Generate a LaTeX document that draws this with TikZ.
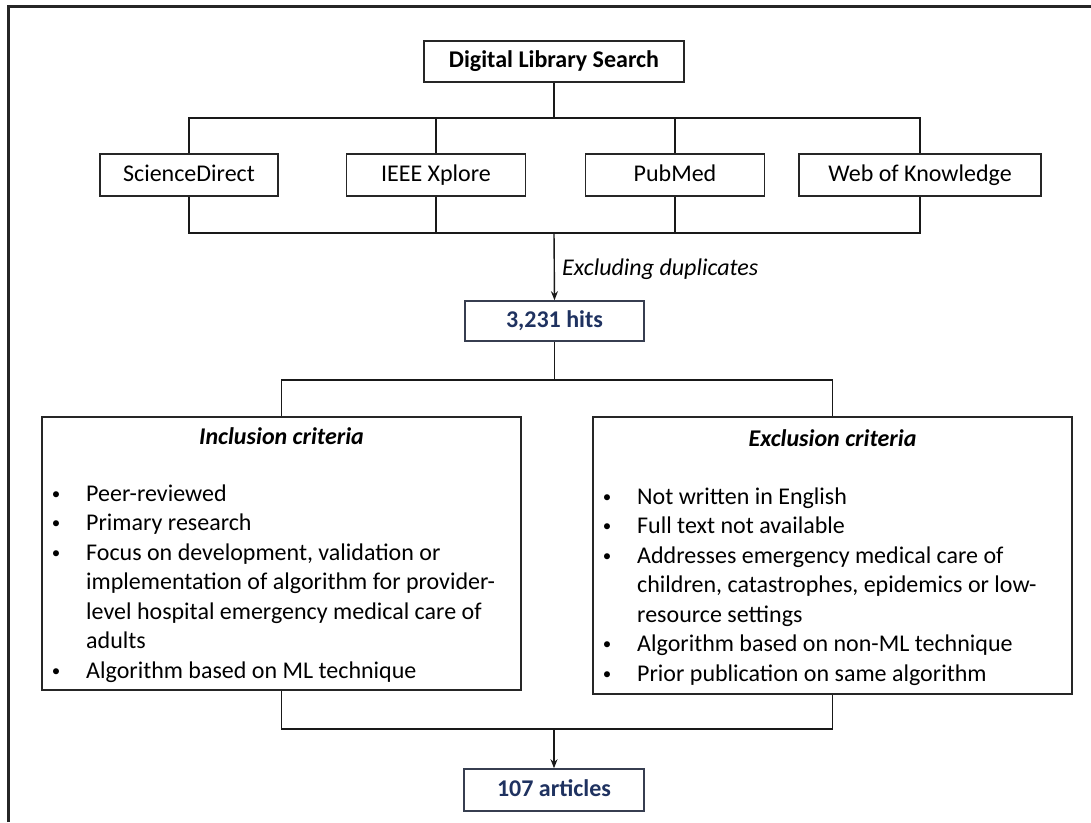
\documentclass[tikz,border=0pt]{standalone}
\usepackage{fontspec}
\setmainfont{Carlito}
\usetikzlibrary{arrows.meta}
\definecolor{navytext}{RGB}{31,50,96}
\definecolor{hitsborder}{RGB}{55,62,80}
\newcommand{\mysize}{\fontsize{24}{29.5}\selectfont}
\tikzset{
  box/.style={draw=black!85, line width=1.6pt, inner sep=0pt, fill=white, text height=17pt, text depth=5pt},
  bigbox/.style={draw=black!85, line width=1.6pt, inner sep=0pt, fill=white},
  hitbox/.style={draw=hitsborder, line width=1.6pt, inner sep=0pt, fill=white, text=navytext, text height=17pt, text depth=5pt},
  conn/.style={draw=black!90, line width=1.4pt},
  arr/.style={conn, -{Stealth[length=9pt,width=7pt]}},
  item/.style={anchor=base west, inner sep=0pt},
  bul/.style={anchor=base, inner sep=0pt, font=\fontsize{17}{17}\selectfont, yshift=2pt},
  ttl/.style={anchor=base, inner sep=0pt, font=\mysize\bfseries\itshape},
}
\begin{document}
\begin{tikzpicture}[x=1pt,y=-1pt,font=\mysize]
\useasboundingbox (0,0) rectangle (1091,822);
% outer frame (only top and left visible)
\draw[line width=3pt, black!85] (8,822) -- (8,6) -- (1091,6);

% top level
\node[box, minimum width=260pt, minimum height=41pt] (dls) at (554,61.5) {\bfseries Digital Library Search};
\node[box, minimum width=178pt, minimum height=42pt] (sd) at (189,175) {ScienceDirect};
\node[box, minimum width=179pt, minimum height=42pt] (ieee) at (436,175) {IEEE Xplore};
\node[box, minimum width=179pt, minimum height=42pt] (pub) at (675,175) {PubMed};
\node[box, minimum width=242pt, minimum height=42pt] (wok) at (920,175) {Web of Knowledge};

\coordinate (tb) at (554,118);
\coordinate (bb) at (554,233);
\draw[conn] (dls.south) -- (tb);
\draw[conn] (sd.north) |- (tb) -| (wok.north);
\draw[conn] (ieee.north) -- (ieee.north |- tb);
\draw[conn] (pub.north) -- (pub.north |- tb);
\draw[conn] (sd.south) |- (bb) -| (wok.south);
\draw[conn] (ieee.south) -- (ieee.south |- bb);
\draw[conn] (pub.south) -- (pub.south |- bb);

% hits
\node[hitbox, minimum width=179pt, minimum height=40pt] (hits) at (554.5,321) {\bfseries 3,231 hits};
\draw[arr] (bb) -- (hits.north);
\node[anchor=west, inner sep=0pt, font=\mysize\itshape] (excl) at (562,269) {Excluding duplicates};

% criteria boxes
\node[bigbox, minimum width=479pt, minimum height=273pt] (inc) at (281.5,553.5) {};
\node[bigbox, minimum width=479pt, minimum height=277pt] (exc) at (832.5,555.5) {};
\coordinate (mb) at (554.5,380);
\draw[conn] (hits.south) -- (mb);
\draw[conn] (inc.north) |- (mb) -| (exc.north);

% inclusion text
\node[ttl] (inct) at (281.5,444) {Inclusion criteria};
\node[bul] (ib1) at (56,501) {•};
\node[item] (i1) at (86,501) {Peer-reviewed};
\node[bul] (ib2) at (56,530.5) {•};
\node[item] (i2) at (86,530.5) {Primary research};
\node[bul] (ib3) at (56,560) {•};
\node[item] (i3a) at (86,560) {Focus on development, validation or};
\node[item] (i3b) at (86,589.5) {implementation of algorithm for provider-};
\node[item] (i3c) at (86,619) {level hospital emergency medical care of};
\node[item] (i3d) at (86,648.5) {adults};
\node[bul] (ib4) at (56,678) {•};
\node[item] (i4) at (86,678) {Algorithm based on ML technique};

% exclusion text
\node[ttl] (exct) at (832.5,446) {Exclusion criteria};
\node[bul] (eb1) at (607,504) {•};
\node[item] (e1) at (637,504) {Not written in English};
\node[bul] (eb2) at (607,533.5) {•};
\node[item] (e2) at (637,533.5) {Full text not available};
\node[bul] (eb3) at (607,563) {•};
\node[item] (e3a) at (637,563) {Addresses emergency medical care of};
\node[item] (e3b) at (637,592.5) {children, catastrophes, epidemics or low-};
\node[item] (e3c) at (637,622) {resource settings};
\node[bul] (eb4) at (607,651.5) {•};
\node[item] (e4) at (637,651.5) {Algorithm based on non-ML technique};
\node[bul] (eb5) at (607,681) {•};
\node[item] (e5) at (637,681) {Prior publication on same algorithm};

% result
\node[hitbox, minimum width=180pt, minimum height=42pt] (art) at (554,790) {\bfseries 107 articles};
\coordinate (lb) at (554,729);
\draw[conn] (inc.south) |- (lb) -| (exc.south);
\draw[arr] (lb) -- (art.north);
\end{tikzpicture}
\end{document}
